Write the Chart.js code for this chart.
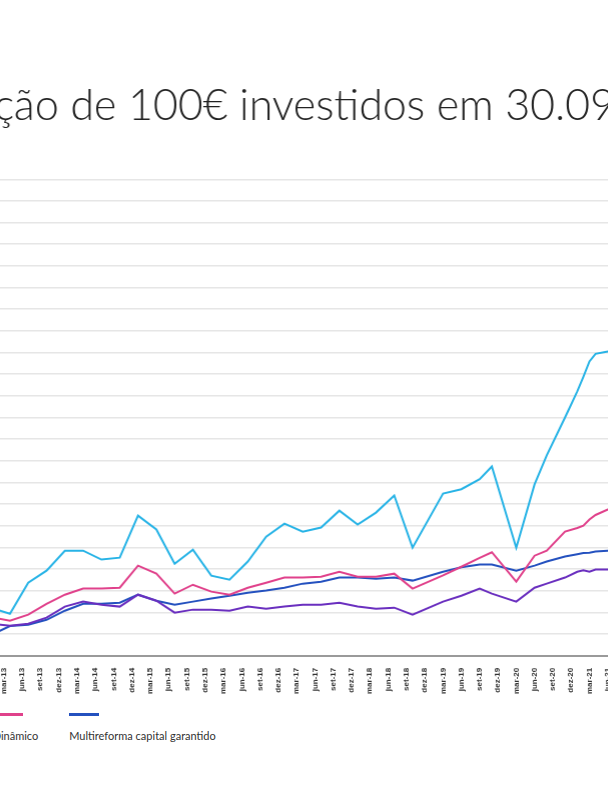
<!DOCTYPE html>
<html lang="pt">
<head>
<meta charset="utf-8">
<title>Evolução de 100€</title>
<script src="https://cdn.jsdelivr.net/npm/chart.js@4.4.1/dist/chart.umd.min.js"></script>
<style>
  html, body { margin: 0; padding: 0; background: #fff; overflow: hidden; width: 608px; height: 800px; }
  #wrap { position: absolute; left: -108px; top: 0; width: 831.6px; height: 698px; }
  #legend { position: absolute; top: 713px; left: 0; display: flex; gap: 31px; font-family: Lato, sans-serif; font-size: 11px; color: #333; white-space: nowrap; }
  .item .swatch { width: 30px; height: 2.5px; }
  .item .txt { margin-top: 13px; line-height: 14px; }
</style>
</head>
<body>
<div id="wrap"><canvas id="chart"></canvas></div>
<div id="legend"></div>
<script>
// meses desde 30.09.2012
const months = [0, 3, 6, 9, 12, 15, 18, 21, 24, 27, 30, 33, 36, 39, 42, 45, 48, 51, 54, 57, 60, 63, 66, 69, 72, 75,
    80, 83, 86, 88, 92, 95, 97, 100, 102, 103, 104, 105, 107, 110];

const acoes = [100, 105, 112, 109.4, 123.7, 129.3, 138.5, 138.5, 134.4, 135.3, 154.7, 148.3, 132.5, 139, 127, 125.1,
    133.5, 145, 151, 147.3, 149.2, 157, 150.6, 156.1, 164, 139.9,
    164.9, 166.9, 171.5, 177.4, 139.9, 169.1, 182.5, 200, 212.1, 218.8, 225.9, 229.4, 230.5, 233];
const conservador = [100, 101.5, 104.8, 103.9, 104.8, 107.6, 112.7, 115, 113.6, 112.7, 118.2, 115.4, 109.9, 111.3, 111.3, 110.8,
    112.7, 111.7, 112.7, 113.6, 113.6, 114.5, 112.7, 111.7, 112.2, 109,
    115, 117.7, 121, 118.7, 115, 121.4, 123.3, 126.1, 128.8, 129.5, 128.8, 129.8, 129.8, 130.5];
const dinamico = [100, 103, 107.8, 106.2, 109, 114, 118.2, 121, 121, 121.4, 131.6, 127.9, 118.7, 122.8, 119.6, 118.2,
    121.4, 123.7, 126.1, 126.1, 126.5, 128.8, 126.5, 126.5, 127.9, 121,
    127.1, 131.1, 135.2, 137.8, 124.2, 136.2, 138.5, 147.3, 149, 150.1, 152.9, 155, 157.5, 158];
const garantido = [100, 100.5, 99.7, 103.7, 104.3, 106.6, 110.8, 114, 114, 114.5, 118.2, 115.4, 113.6, 115, 116.4, 117.7,
    119.1, 120.1, 121.4, 123.3, 124.2, 126.1, 126.1, 125.6, 126.1, 124.7,
    128.8, 130.9, 132.1, 132.1, 129.3, 131.6, 133.5, 135.8, 136.9, 137.4, 137.6, 138.1, 138.5, 139];

const tickLabels = ['mar-13', 'jun-13', 'set-13', 'dez-13', 'mar-14', 'jun-14', 'set-14', 'dez-14',
    'mar-15', 'jun-15', 'set-15', 'dez-15', 'mar-16', 'jun-16', 'set-16', 'dez-16',
    'mar-17', 'jun-17', 'set-17', 'dez-17', 'mar-18', 'jun-18', 'set-18', 'dez-18',
    'mar-19', 'jun-19', 'set-19', 'dez-19', 'mar-20', 'jun-20', 'set-20', 'dez-20',
    'mar-21', 'jun-21', 'set-21', 'dez-21', 'mar-22', 'jun-22', 'set-22'];
const firstTick = 8;

const seriesNames = ['Ações', 'Conservador', 'Dinâmico', 'Multireforma capital garantido'];
const seriesColors = ['#27b3e6', '#6a2fbf', '#e0418b', '#2451bf'];

function toPoints(values) {
    return values.map((v, i) => ({ x: months[i], y: v }));
}

const seriesValues = [acoes, conservador, dinamico, garantido];

const chart = new Chart(document.getElementById('chart'), {
    type: 'line',
    data: {
        datasets: seriesValues.map((vals, i) => ({
            label: seriesNames[i],
            data: toPoints(vals),
            borderColor: seriesColors[i],
            backgroundColor: seriesColors[i],
            borderWidth: 2,
            pointRadius: 0,
            tension: 0
        }))
    },
    options: {
        responsive: true,
        maintainAspectRatio: false,
        animation: false,
        devicePixelRatio: 1,
        layout: { padding: 0 },
        plugins: {
            legend: { display: false },
            tooltip: { enabled: false },
            title: {
                display: true,
                text: 'Evolução de 100€ investidos em 30.09.2012',
                color: '#222',
                font: { family: 'Lato', size: 43.8, weight: '300' },
                padding: { top: 80, bottom: 46.7 }
            }
        },
        scales: {
            x: {
                type: 'linear',
                min: -4,
                max: 126,
                grid: { display: false },
                border: { display: true, color: '#9a9a9a', width: 2 },
                afterBuildTicks: (scale) => {
                    scale.ticks = tickLabels.map((l, i) => ({ value: firstTick + 3 * i }));
                },
                ticks: {
                    autoSkip: false,
                    maxRotation: 90,
                    minRotation: 90,
                    padding: 4,
                    color: '#333',
                    font: { family: 'Liberation Sans', size: 8, weight: 'bold' },
                    callback: (v, i) => tickLabels[i]
                }
            },
            y: {
                min: 90,
                max: 310,
                afterFit: (scale) => { scale.width = 38.6; },
                grid: { color: '#e6e6e6', lineWidth: 1.5 },
                border: { display: false },
                ticks: {
                    stepSize: 10,
                    color: '#555',
                    font: { family: 'Lato', size: 11 }
                }
            }
        }
    }
});

// legenda: traço de cor por cima do nome
const legendDiv = document.getElementById('legend');
let anchor = null;
chart.data.datasets.forEach((ds, i) => {
    const item = document.createElement('div');
    item.className = 'item';
    item.innerHTML = `<div class="swatch" style="background:${ds.borderColor}"></div><div class="txt">${ds.label}</div>`;
    legendDiv.appendChild(item);
    if (i === 2) anchor = item;
});
legendDiv.style.left = (-7 - anchor.offsetLeft) + 'px';
</script>
</body>
</html>
